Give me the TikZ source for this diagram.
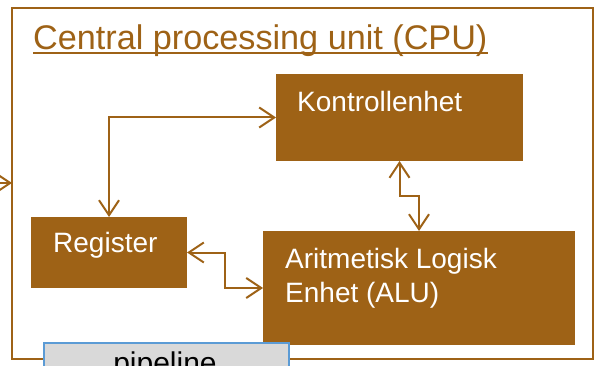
\documentclass[tikz,border=0pt]{standalone}
\usepackage{fontspec}
\setmainfont{Liberation Sans}
\usetikzlibrary{arrows.meta}
\definecolor{brown}{RGB}{158,98,22}
\definecolor{pipegray}{RGB}{217,217,217}
\definecolor{pipeblue}{RGB}{91,155,213}
\begin{document}
\begin{tikzpicture}[x=1pt,y=-1pt,
  box/.style={fill=brown,draw=none,anchor=north west,inner sep=0,outer sep=0},
  boxtext/.style={text=white,anchor=base west,inner sep=0,font=\fontsize{28}{32}\selectfont},
  link/.style={draw=brown,line width=2pt,{Straight Barb[length=15pt,width=20pt]}-{Straight Barb[length=15pt,width=20pt]}},
  onearrow/.style={draw=brown,line width=2pt,-{Straight Barb[length=15pt,width=20pt]}}]
\clip (0,0) rectangle (597,366);
\fill[white] (0,0) rectangle (597,366);
% frame
\node[draw=brown,line width=2pt,anchor=north west,inner sep=0,outer sep=0,minimum width=581pt,minimum height=351pt] (frame) at (12,8) {};
\node[anchor=base west,inner sep=0,text=brown,font=\fontsize{34.2}{40}\selectfont] (title) at (33,50) {Central processing unit (CPU)};
\draw[brown,line width=2pt] ([yshift=-3.5pt]title.base west) -- ([yshift=-3.5pt]title.base east);
% boxes
\node[box,minimum width=247pt,minimum height=87pt] (k) at (276,74) {};
\node[boxtext] (kt) at (297,112) {Kontrollenhet};
\node[box,minimum width=156pt,minimum height=71pt] (reg) at (31,217) {};
\node[boxtext] (rt) at (53,252) {Register};
\node[box,minimum width=312pt,minimum height=114pt] (alu) at (263,231) {};
\node[boxtext] (at1) at (285,268) {Aritmetisk Logisk};
\node[boxtext] (at2) at (285,302) {Enhet (ALU)};
% connectors
\draw[link] (k.west) -| (reg.north);
\coordinate (rbend) at (225,252);
\draw[link] (reg.east) -- (reg.east -| rbend) |- (alu.west);
\coordinate (kbend) at (400,196);
\draw[link] (k.south) |- (kbend) -| (alu.north);
\coordinate (in) at (-2,183);
\draw[onearrow] (in) -- (frame.west |- in);
% pipeline
\node[fill=pipegray,draw=pipeblue,line width=1.5pt,anchor=north west,inner sep=0,minimum width=245pt,minimum height=60pt] (pipe) at (43,342) {};
\node[anchor=base,inner sep=0,font=\fontsize{30}{34}\selectfont] (pt) at (165,373) {pipeline};
\end{tikzpicture}
\end{document}
